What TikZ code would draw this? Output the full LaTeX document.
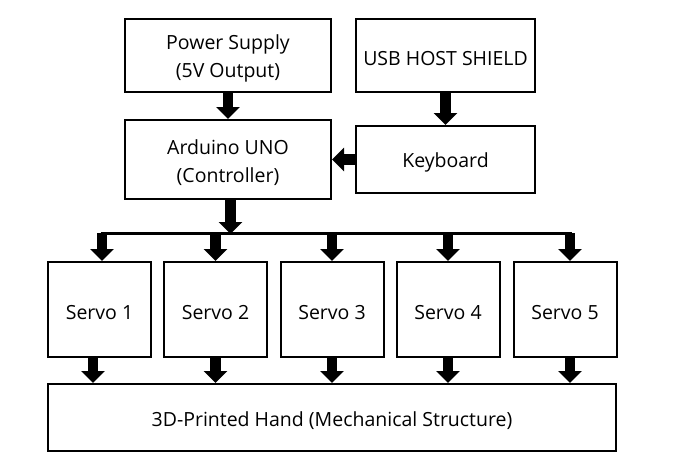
\documentclass[tikz,border=0pt]{standalone}
\usepackage{fontspec}
\setmainfont{Open Sans}
\usetikzlibrary{arrows.meta}
\newcommand{\lowr}[1]{\raisebox{-3pt}[\height][\depth]{#1}}
\tikzset{
  blk/.style={draw=black, line width=2pt, rectangle, inner sep=0pt, align=center, font=\fontsize{19.5}{28}\selectfont, execute at begin node={\rule{0pt}{21pt}}},
  blktwo/.style={draw=black, line width=2pt, rectangle, inner sep=0pt, align=center, font=\fontsize{19.5}{28}\selectfont},
  fat/.style={line width=10.5pt, -{Triangle[width=23pt,length=12pt]}},
  bus/.style={line width=3pt}
}
\begin{document}
\begin{tikzpicture}[x=1pt,y=-1pt]
\useasboundingbox (0,0) rectangle (675,466);
\fill[white] (0,0) rectangle (675,466);
\node[blktwo, minimum width=206pt, minimum height=73pt] (ps) at (228,55.5) {\lowr{Power Supply}\\\lowr{(5V Output)}};
\node[blk, minimum width=179pt, minimum height=73pt] (usb) at (445.5,55.5) {USB HOST SHIELD};
\node[blktwo, minimum width=206pt, minimum height=79pt] (ard) at (228,159.5) {\lowr{Arduino UNO}\\\lowr{(Controller)}};
\node[blk, minimum width=179pt, minimum height=67pt] (kb) at (445.5,159.5) {Keyboard};
\node[blk, minimum width=103pt, minimum height=95pt] (s1) at (99.5,309.5) {Servo 1};
\node[blk, minimum width=103pt, minimum height=95pt] (s2) at (215.5,309.5) {Servo 2};
\node[blk, minimum width=103pt, minimum height=95pt] (s3) at (332,309.5) {Servo 3};
\node[blk, minimum width=103pt, minimum height=95pt] (s4) at (448,309.5) {Servo 4};
\node[blk, minimum width=103pt, minimum height=95pt] (s5) at (565,309.5) {Servo 5};
\node[blk, minimum width=568pt, minimum height=67pt] (hand) at (332,417.5) {3D-Printed Hand (Mechanical Structure)};
\coordinate (busc) at (230.5,233);
\coordinate (busL) at (102,233);
\coordinate (busR) at (570,233);
\draw[fat] (ps.south) -- (ard.north);
\draw[fat] (usb.south) -- (kb.north);
\draw[fat] (kb.west) -- (ard.east);
\draw[fat] ([xshift=2.5pt]ard.south) -- ([yshift=-1pt]busc);
\draw[bus] ([xshift=-1.5pt]busL) -- ([xshift=1.5pt]busR);
\draw[fat] (busL) -- (busL |- s1.north);
\draw[fat] (s2.north |- busc) -- (s2.north);
\draw[fat] (s3.north |- busc) -- (s3.north);
\draw[fat] (s4.north |- busc) -- (s4.north);
\draw[fat] (busR) -- (busR |- s5.north);
\draw[fat] ([xshift=-6.5pt]s1.south) -- ([xshift=-6.5pt]s1.south |- hand.north);
\draw[fat] (s2.south) -- (s2.south |- hand.north);
\draw[fat] (s3.south) -- (s3.south |- hand.north);
\draw[fat] (s4.south) -- (s4.south |- hand.north);
\draw[fat] ([xshift=5pt]s5.south) -- ([xshift=5pt]s5.south |- hand.north);
\end{tikzpicture}
\end{document}
